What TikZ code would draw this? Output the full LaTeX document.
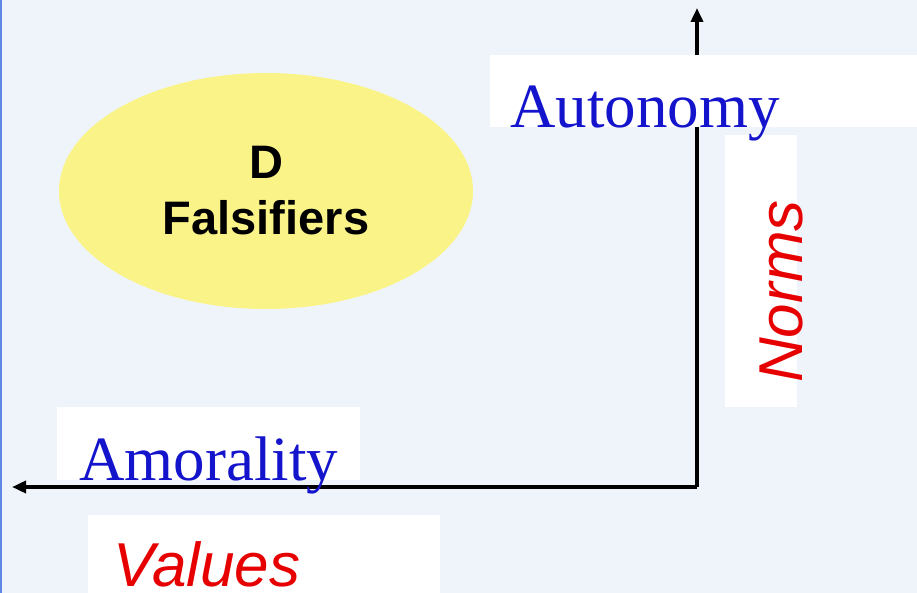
\documentclass[tikz,border=0pt]{standalone}
\usepackage{fontspec}
\setmainfont{Liberation Serif}
\setsansfont{Liberation Sans}
\usetikzlibrary{shapes.geometric, arrows.meta}

\definecolor{bgblue}{RGB}{239,244,250}
\definecolor{edgeblue}{RGB}{95,135,230}
\definecolor{ovalyellow}{RGB}{250,244,136}
\definecolor{axisblue}{RGB}{20,20,205}
\definecolor{axisred}{RGB}{230,0,0}

\begin{document}
\begin{tikzpicture}[x=1pt, y=-1pt,
    axis/.style={line width=4.5pt, -{Triangle[length=14pt, width=12pt]}},
    poleword/.style={anchor=base west, inner sep=0pt, text=axisblue,
        font=\rmfamily\fontsize{63}{70}\selectfont},
    dimword/.style={anchor=base west, inner sep=0pt, text=axisred,
        font=\sffamily\itshape\fontsize{62}{70}\selectfont},
    oval/.style={ellipse, fill=ovalyellow, inner sep=0pt, align=center,
        font=\sffamily\bfseries\fontsize{47}{56}\selectfont}]

    % canvas
    \useasboundingbox (0,0) rectangle (917,593);
    \fill[bgblue] (0,0) rectangle (917,593);
    \draw[edgeblue, line width=2pt] (1,0) -- (1,593);

    % group D
    \node[oval, minimum width=414pt, minimum height=236pt] (falsifiers) at (266,191) {D\\Falsifiers};

    % axes
    \coordinate (origin) at (697,487);
    \coordinate (left end) at (12,487);
    \coordinate (top end) at (697,8);
    \draw[axis] (origin) -- (left end);
    \draw[axis] (origin) -- (top end);

    % label boxes
    \fill[white] (490,55) rectangle (917,127);
    \fill[white] (725,135) rectangle (797,407);
    \fill[white] (57,407) rectangle (360,480);
    \fill[white] (88,515) rectangle (440,593);

    % labels
    \node[poleword] (autonomy) at (510,128) {Autonomy};
    \node[poleword] (amorality) at (79,480) {Amorality};
    \node[dimword, rotate=90] (norms) at (802,383) {Norms};
    \node[dimword] (values) at (113,586) {Values};

\end{tikzpicture}
\end{document}
